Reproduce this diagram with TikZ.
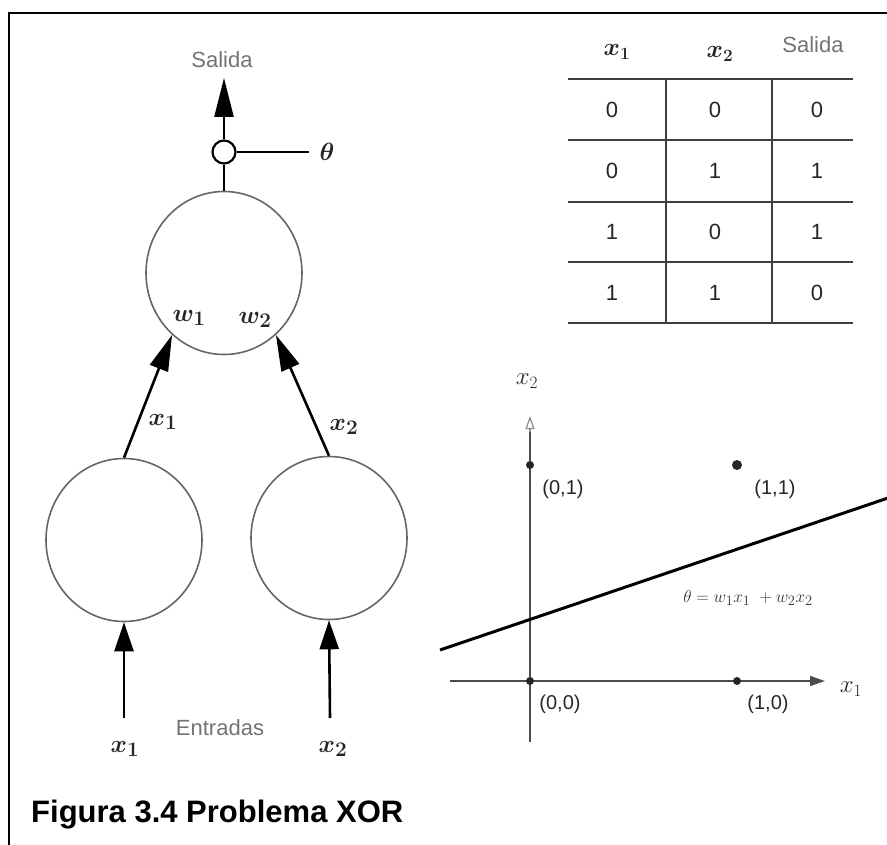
\documentclass[tikz,border=0pt]{standalone}
\usepackage{fontspec}
\setmainfont{Liberation Sans}
\usetikzlibrary{arrows.meta,shapes.geometric}
\begin{document}
\begin{tikzpicture}[x=1pt,y=-1pt,
  neuron/.style={draw=black!60,line width=1.6pt,ellipse,minimum width=156pt,minimum height=163pt,inner sep=0pt},
  conn/.style={line width=2.6pt,-{Triangle[length=36pt,width=19pt]}},
  plain/.style={line width=2.4pt},
  graytxt/.style={text=black!55,font=\fontsize{22}{26}\selectfont,inner sep=0pt},
  cell/.style={text=black!85,font=\fontsize{22}{26}\selectfont,inner sep=0pt},
  coordtxt/.style={text=black!85,font=\fontsize{20}{24}\selectfont,inner sep=0pt},
  mathtxt/.style={text=black!85,font=\fontsize{28}{32}\selectfont\boldmath,inner sep=0pt},
  tline/.style={draw=black!75,line width=1.8pt},
  axis/.style={draw=black!70,line width=1.6pt},
  dot/.style={circle,fill=black!85,inner sep=0pt,minimum size=8pt}
]
\useasboundingbox (0,0) rectangle (887,845);
% frame
\draw[line width=2.6pt] (9,846) -- (9,13) -- (888,13);

% ---------- network ----------
\node[graytxt] (salida) at (222,60) {Salida};
\node[circle,draw=black,line width=2.2pt,minimum size=23pt,inner sep=0pt,fill=white] (s) at (224,152) {};
\coordinate (outtip) at (224,78);
\draw[line width=2.6pt,-{Triangle[length=39pt,width=19pt]}] (s.north) -- (outtip);
\node[mathtxt,inner xsep=10pt,font=\fontsize{26}{30}\selectfont\boldmath] (theta) at (327,152) {$\theta$};
\draw[plain] (s.east) -- (theta.west);

\node[neuron] (T) at (224,273) {};
\draw[plain] (s.south) -- (T.north);
\node[mathtxt] (w1) at (189,318) {$w_1$};
\node[mathtxt] (w2) at (255,320) {$w_2$};

\node[neuron] (L) at (124,540) {};
\node[neuron] (R) at (329,538) {};

\draw[conn] (L.north) -- (T.230);
\draw[conn] (R.north) -- (T.310);
\node[mathtxt] (lx1) at (163,422) {$x_1$};
\node[mathtxt] (lx2) at (344,427) {$x_2$};

\coordinate (in1) at (124,718);
\coordinate (in2) at (330,718);
\draw[line width=2.6pt,-{Triangle[length=29pt,width=19pt]}] (in1) -- (L.south);
\draw[line width=2.6pt,-{Triangle[length=29pt,width=19pt]}] (in2) -- (R.south);
\node[graytxt] (entradas) at (220,728) {Entradas};
\node[mathtxt] (ix1) at (125,749) {$x_1$};
\node[mathtxt] (ix2) at (333,749) {$x_2$};

% caption
\node[anchor=base west,inner sep=0pt,font=\fontsize{31}{36}\selectfont\bfseries] (cap) at (31,822) {Figura 3.4 Problema XOR};

% ---------- table ----------
\node[mathtxt,font=\fontsize{26}{30}\selectfont\boldmath] (hx1) at (617,52) {$x_1$};
\node[mathtxt,font=\fontsize{26}{30}\selectfont\boldmath] (hx2) at (720,54) {$x_2$};
\node[graytxt] (hs) at (813,45) {Salida};
\foreach \yy in {79,140,202,262,323} \draw[tline] (568,\yy) -- (853,\yy);
\draw[tline] (666,79) -- (666,323);
\draw[tline] (772,79) -- (772,323);
\foreach \a/\b/\c [count=\r] in {0/0/0,0/1/1,1/0/1,1/1/0}{
  \pgfmathsetmacro{\yc}{49+61*\r}
  \node[cell] (ca\r) at (612,\yc) {\a};
  \node[cell] (cb\r) at (715,\yc) {\b};
  \node[cell] (cc\r) at (817,\yc) {\c};
}

% ---------- graph ----------
\coordinate (ybot) at (530,742);
\coordinate (ytop) at (530,416);
\coordinate (xleft) at (450,681);
\coordinate (xright) at (825,681);
\draw[axis] (ybot) -- (530,430);
\draw[draw=black!45,line width=1.2pt,-{Triangle[open,length=13pt,width=9pt]}] (530,432) -- (ytop);
\draw[axis,-{Triangle[length=15pt,width=10pt]}] (xleft) -- (xright);
\node[mathtxt,font=\fontsize{25}{30}\selectfont] (gx2) at (527,381) {$x_2$};
\node[mathtxt,font=\fontsize{25}{30}\selectfont] (gx1) at (851,689) {$x_1$};

\node[dot] (p01) at (530,465) {};
\node[dot,minimum size=10pt] (p11) at (737,465) {};
\node[dot] (p00) at (530,681) {};
\node[dot] (p10) at (737,681) {};
\node[coordtxt] (l01) at (563,489) {(0,1)};
\node[coordtxt] (l11) at (775,489) {(1,1)};
\node[coordtxt] (l00) at (560,704) {(0,0)};
\node[coordtxt] (l10) at (768,704) {(1,0)};

\coordinate (la) at (440,650);
\coordinate (lb) at (888,498);
\draw[line width=3pt] (la) -- (lb);
\node[inner sep=0pt,text=black!80,font=\fontsize{19}{22}\selectfont] (eq) at (748,598) {$\theta=w_1x_1\ +w_2x_2$};
\end{tikzpicture}
\end{document}
